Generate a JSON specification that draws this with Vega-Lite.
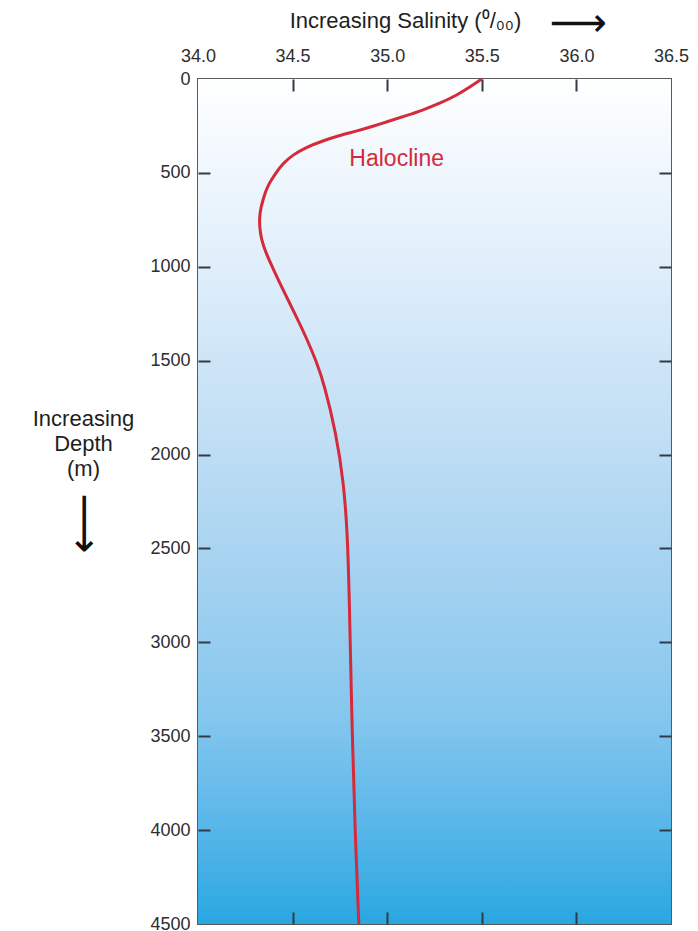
{
  "$schema": "https://vega.github.io/schema/vega-lite/v6.json",
  "autosize": "none",
  "padding": {"left": 198, "top": 79, "right": 27, "bottom": 7},
  "width": 473,
  "height": 845,
  "background": "white",
  "config": {
    "view": {"stroke": "#5a5a5a", "strokeWidth": 2},
    "axis": {
      "labelFont": "Liberation Sans",
      "titleFont": "Liberation Sans",
      "labelColor": "#2e2e2e",
      "titleColor": "#1e1e1e",
      "titleFontWeight": "normal",
      "grid": false,
      "domain": false,
      "ticks": true,
      "tickColor": "#333a45",
      "tickWidth": 2,
      "tickSize": 12,
      "zindex": 2
    }
  },
  "data": {
    "values": [
      {"depth": 0, "salinity": 35.5},
      {"depth": 41, "salinity": 35.44},
      {"depth": 85, "salinity": 35.37},
      {"depth": 129, "salinity": 35.28},
      {"depth": 165, "salinity": 35.19},
      {"depth": 195, "salinity": 35.1},
      {"depth": 224, "salinity": 35.01},
      {"depth": 250, "salinity": 34.93},
      {"depth": 277, "salinity": 34.84},
      {"depth": 300, "salinity": 34.75},
      {"depth": 329, "salinity": 34.66},
      {"depth": 364, "salinity": 34.57},
      {"depth": 405, "salinity": 34.5},
      {"depth": 449, "salinity": 34.45},
      {"depth": 502, "salinity": 34.41},
      {"depth": 564, "salinity": 34.37},
      {"depth": 635, "salinity": 34.345},
      {"depth": 715, "salinity": 34.325},
      {"depth": 786, "salinity": 34.325},
      {"depth": 857, "salinity": 34.335},
      {"depth": 928, "salinity": 34.36},
      {"depth": 1017, "salinity": 34.4},
      {"depth": 1124, "salinity": 34.45},
      {"depth": 1266, "salinity": 34.52},
      {"depth": 1372, "salinity": 34.57},
      {"depth": 1514, "salinity": 34.63},
      {"depth": 1620, "salinity": 34.665},
      {"depth": 1885, "salinity": 34.73},
      {"depth": 2150, "salinity": 34.77},
      {"depth": 2420, "salinity": 34.79},
      {"depth": 2770, "salinity": 34.8},
      {"depth": 3500, "salinity": 34.815},
      {"depth": 4000, "salinity": 34.83},
      {"depth": 4500, "salinity": 34.85}
    ]
  },
  "resolve": {"axis": {"x": "independent", "y": "independent"}},
  "layer": [
    {
      "data": {"values": [{"zone": "ocean"}]},
      "mark": {
        "type": "rect",
        "color": {
          "gradient": "linear",
          "x1": 0, "y1": 0, "x2": 0, "y2": 1,
          "stops": [
            {"offset": 0, "color": "#ffffff"},
            {"offset": 0.05, "color": "#f7fbfe"},
            {"offset": 0.2, "color": "#e3f0fb"},
            {"offset": 0.4, "color": "#c4e0f5"},
            {"offset": 0.6, "color": "#a2d1f0"},
            {"offset": 0.75, "color": "#86c7ee"},
            {"offset": 0.88, "color": "#5ab7ea"},
            {"offset": 1, "color": "#29a7e1"}
          ]
        }
      },
      "encoding": {
        "x": {
          "datum": 34, "type": "quantitative",
          "scale": {"domain": [34, 36.5], "nice": false, "zero": false},
          "axis": {
            "orient": "bottom", "offset": -12, "labels": false,
            "values": [34.5, 35, 35.5, 36], "zindex": 2,
            "title": "⟶", "titleFont": "DejaVu Sans", "titleFontSize": 40,
            "titleColor": "#111111",
            "titleAlign": "center", "titleBaseline": "middle",
            "titleX": 380, "titleY": -889
          }
        },
        "x2": {"datum": 36.5},
        "y": {
          "datum": 0, "type": "quantitative",
          "scale": {"domain": [0, 4500], "nice": false, "zero": false, "reverse": true},
          "axis": {
            "orient": "right", "offset": -12, "labels": false,
            "values": [500, 1000, 1500, 2000, 2500, 3000, 3500, 4000], "zindex": 2,
            "title": "⟶", "titleFont": "DejaVu Sans", "titleFontSize": 42,
            "titleColor": "#111111", "titleAngle": 90,
            "titleAlign": "center", "titleBaseline": "middle",
            "titleX": -576, "titleY": 444
          }
        },
        "y2": {"datum": 4500}
      }
    },
    {
      "mark": {"type": "line", "color": "#d42a3a", "strokeWidth": 3, "interpolate": "basis"},
      "encoding": {
        "x": {
          "field": "salinity", "type": "quantitative",
          "scale": {"domain": [34, 36.5], "nice": false, "zero": false},
          "axis": {
            "orient": "top", "offset": -12, "labelPadding": 14, "zindex": 2,
            "values": [34, 34.5, 35, 35.5, 36, 36.5], "format": ".1f",
            "tickOpacity": {"condition": {"test": "datum.value <= 34 || datum.value >= 36.5", "value": 0}, "value": 1},
            "labelFlush": false, "labelFontSize": 18,
            "title": "Increasing Salinity (⁰/₀₀)", "titleFontSize": 22,
            "titleAlign": "center", "titleBaseline": "middle",
            "titleX": 207, "titleY": -71
          }
        },
        "y": {
          "field": "depth", "type": "quantitative",
          "scale": {"domain": [0, 4500], "nice": false, "zero": false, "reverse": true},
          "axis": {
            "orient": "left", "offset": -12, "labelPadding": 8, "zindex": 2,
            "values": [0, 500, 1000, 1500, 2000, 2500, 3000, 3500, 4000, 4500],
            "tickOpacity": {"condition": {"test": "datum.value <= 0 || datum.value >= 4500", "value": 0}, "value": 1},
            "format": "d", "labelFontSize": 18,
            "title": ["Increasing", "Depth", "(m)"], "titleFontSize": 22,
            "titleAngle": 0, "titleAlign": "center", "titleBaseline": "top",
            "titleLineHeight": 25, "titleX": -127, "titleY": 329
          }
        },
        "order": {"field": "depth", "type": "quantitative"}
      }
    },
    {
      "data": {"values": [{"label": "Halocline"}]},
      "mark": {"type": "text", "color": "#d42a3a", "font": "Liberation Sans", "fontSize": 23, "align": "center", "baseline": "middle"},
      "encoding": {
        "x": {"datum": 35.05, "type": "quantitative", "axis": null},
        "y": {"datum": 425, "type": "quantitative", "axis": null},
        "text": {"field": "label"}
      }
    }
  ]
}
